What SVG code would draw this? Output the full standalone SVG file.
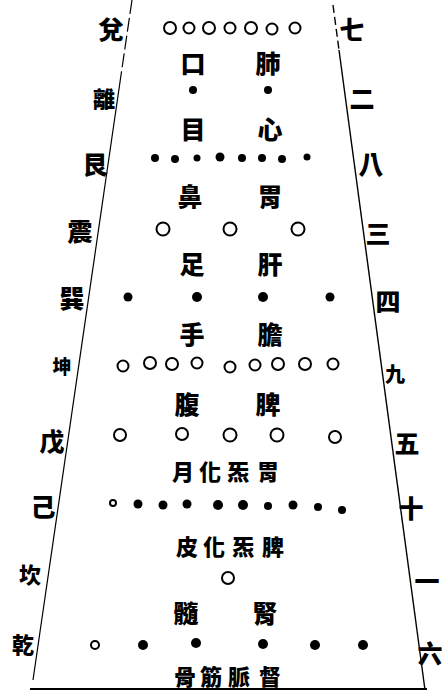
<svg xmlns="http://www.w3.org/2000/svg" width="448" height="697" viewBox="0 0 448 697">
<style>
text{font-family:"Noto Sans CJK TC","Noto Sans CJK SC",sans-serif;font-weight:900;fill:#000;text-anchor:middle;dominant-baseline:central}
.side{font-size:25px}
.organ{font-size:25px}
.small{font-size:22px}
.o{fill:none;stroke:#000;stroke-width:2}
.d{fill:#000}
.ln{stroke:#000;fill:none}
</style>
<rect width="448" height="697" fill="#fff"/>
<g id="frame">
<line class="ln" x1="132" y1="0" x2="120" y2="82" stroke-width="1.2" stroke-dasharray="14 4"/>
<line class="ln" x1="120" y1="82" x2="33" y2="680" stroke-width="1.2"/>
<line class="ln" x1="333" y1="5" x2="339" y2="50" stroke-width="1.4" stroke-dasharray="8 4"/>
<line class="ln" x1="339" y1="50" x2="425" y2="690" stroke-width="1.4"/>
<line class="ln" x1="30" y1="689" x2="427" y2="689" stroke-width="2"/>
</g>
<g id="left-labels">
<text class="side" x="111" y="28">兌</text>
<text class="side" x="104" y="97" style="font-size:22px">離</text>
<text class="side" x="95" y="163">艮</text>
<text class="side" x="80" y="230">震</text>
<text class="side" x="72" y="297">巽</text>
<text class="side" x="62" y="365" style="font-size:19px">坤</text>
<text class="side" x="52" y="440">戊</text>
<text class="side" x="43" y="505">己</text>
<text class="side" x="30" y="573" style="font-size:22px">坎</text>
<text class="side" x="23" y="643" style="font-size:22px">乾</text>
</g>
<g id="right-labels">
<text class="side" x="352" y="28">七</text>
<text class="side" x="362" y="97">二</text>
<text class="side" x="371" y="163">八</text>
<text class="side" x="378" y="232">三</text>
<text class="side" x="388" y="300">四</text>
<text class="side" x="395" y="373" style="font-size:20px">九</text>
<text class="side" x="407" y="442">五</text>
<text class="side" x="411" y="507">十</text>
<text class="side" x="427" y="580">一</text>
<text class="side" x="430" y="652">六</text>
</g>
<g id="organs">
<text class="organ" x="193" y="62">口</text>
<text class="organ" x="268" y="62">肺</text>
<text class="organ" x="193" y="128">目</text>
<text class="organ" x="270" y="128">心</text>
<text class="organ" x="190" y="195">鼻</text>
<text class="organ" x="270" y="195">胃</text>
<text class="organ" x="192" y="263">足</text>
<text class="organ" x="270" y="263">肝</text>
<text class="organ" x="192" y="333">手</text>
<text class="organ" x="270" y="333">膽</text>
<text class="organ" x="187" y="403">腹</text>
<text class="organ" x="268" y="403">脾</text>
<text class="small" x="183" y="470">月</text>
<text class="small" x="210" y="470">化</text>
<text class="small" x="238" y="470">炁</text>
<text class="small" x="268" y="470">胃</text>
<text class="small" x="187" y="545">皮</text>
<text class="small" x="214" y="545">化</text>
<text class="small" x="243" y="545">炁</text>
<text class="small" x="273" y="545">脾</text>
<text class="organ" x="186" y="612">髓</text>
<text class="organ" x="265" y="612">腎</text>
<text class="small" x="185" y="675">骨</text>
<text class="small" x="211" y="675">筋</text>
<text class="small" x="239" y="675">脈</text>
<text class="small" x="270" y="675">督</text>
</g>
<g id="row1">
<circle class="o" cx="170" cy="28" r="6"/><circle class="o" cx="189" cy="28" r="5.5"/><circle class="o" cx="209" cy="28" r="6"/><circle class="o" cx="230" cy="28" r="5.5"/><circle class="o" cx="251" cy="28" r="6"/><circle class="o" cx="272" cy="29" r="5.5"/><circle class="o" cx="295" cy="28" r="5.5"/>
</g>
<g id="row2">
<circle class="d" cx="193" cy="90" r="4"/><circle class="d" cx="268" cy="90" r="4"/>
</g>
<g id="row3">
<circle class="d" cx="155" cy="158" r="4"/><circle class="d" cx="175" cy="159" r="4"/><circle class="d" cx="197" cy="158" r="3.5"/><circle class="d" cx="220" cy="157" r="4.5"/><circle class="d" cx="242" cy="158" r="4"/><circle class="d" cx="262" cy="158" r="4"/><circle class="d" cx="282" cy="159" r="4"/><circle class="d" cx="307" cy="157" r="3.5"/>
</g>
<g id="row4">
<circle class="o" cx="163" cy="229" r="6.5"/><circle class="o" cx="230" cy="229" r="6.5"/><circle class="o" cx="298" cy="229" r="6.5"/>
</g>
<g id="row5">
<circle class="d" cx="128" cy="297" r="4.5"/><circle class="d" cx="197" cy="297" r="5"/><circle class="d" cx="263" cy="297" r="5"/><circle class="d" cx="330" cy="297" r="4.5"/>
</g>
<g id="row6">
<circle class="o" cx="123" cy="366" r="5.5"/><circle class="o" cx="150" cy="363" r="6"/><circle class="o" cx="172" cy="364" r="6"/><circle class="o" cx="197" cy="363" r="5.5"/><circle class="o" cx="230" cy="367" r="5.5"/><circle class="o" cx="255" cy="365" r="5.5"/><circle class="o" cx="278" cy="364" r="6"/><circle class="o" cx="305" cy="364" r="6"/><circle class="o" cx="333" cy="364" r="5.5"/>
</g>
<g id="row7">
<circle class="o" cx="120" cy="435" r="6"/><circle class="o" cx="182" cy="434" r="6"/><circle class="o" cx="230" cy="435" r="6.5"/><circle class="o" cx="277" cy="435" r="6.5"/><circle class="o" cx="335" cy="437" r="6"/>
</g>
<g id="row8">
<circle class="o" cx="113" cy="503" r="3" stroke-width="2.5"/><circle class="d" cx="138" cy="504" r="4.5"/><circle class="d" cx="163" cy="505" r="4.5"/><circle class="d" cx="187" cy="504" r="4.5"/><circle class="d" cx="218" cy="505" r="5"/><circle class="d" cx="243" cy="505" r="5"/><circle class="d" cx="268" cy="506" r="4"/><circle class="d" cx="293" cy="505" r="4.5"/><circle class="d" cx="318" cy="507" r="4"/><circle class="d" cx="342" cy="510" r="4"/>
</g>
<g id="row9">
<circle class="o" cx="228" cy="578" r="6"/>
</g>
<g id="row10">
<circle class="o" cx="95" cy="645" r="4"/><circle class="d" cx="143" cy="645" r="5"/><circle class="d" cx="196" cy="643" r="5"/><circle class="d" cx="263" cy="644" r="5"/><circle class="d" cx="315" cy="645" r="5"/><circle class="d" cx="363" cy="645" r="5"/>
</g>
</svg>
